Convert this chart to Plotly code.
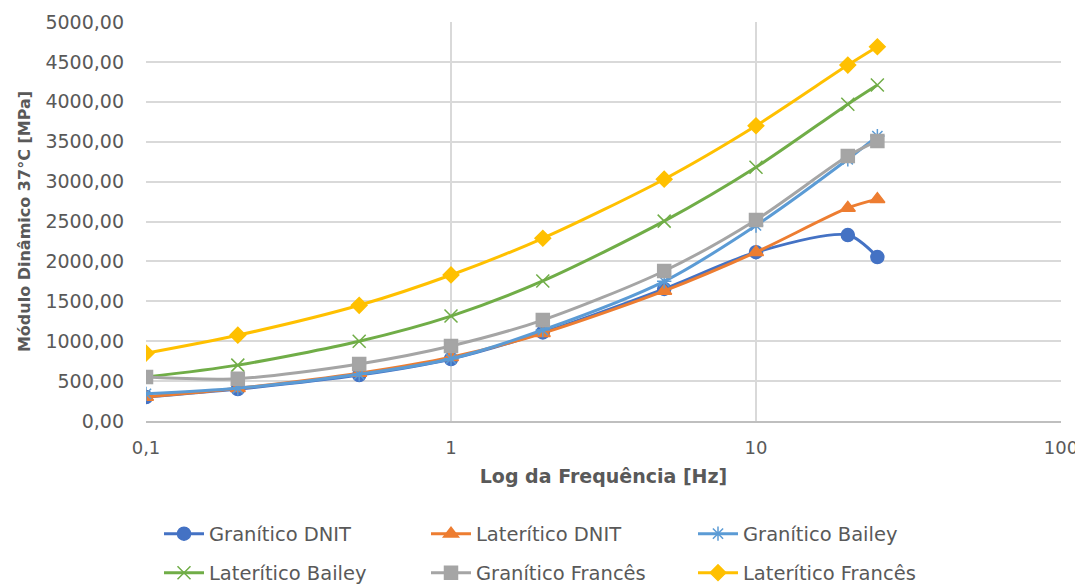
import plotly.graph_objects as go

freq = [0.1, 0.2, 0.5, 1, 2, 5, 10, 20, 25]

granitico_dnit = [300, 400, 575, 777, 1110, 1655, 2115, 2330, 2055]
lateritico_dnit = [300, 410, 600, 800, 1100, 1630, 2115, 2670, 2780]
granitico_bailey = [340, 410, 585, 780, 1140, 1750, 2450, 3280, 3570]
lateritico_bailey = [550, 700, 1000, 1315, 1755, 2505, 3180, 3970, 4210]
granitico_frances = [550, 530, 715, 940, 1265, 1880, 2520, 3320, 3510]
lateritico_frances = [850, 1075, 1450, 1830, 2290, 3030, 3700, 4460, 4690]

series_names = ["Granítico DNIT", "Laterítico DNIT", "Granítico Bailey",
                "Laterítico Bailey", "Granítico Francês", "Laterítico Francês"]
series_values = [granitico_dnit, lateritico_dnit, granitico_bailey,
                 lateritico_bailey, granitico_frances, lateritico_frances]

x_tickvals = [0.1, 1, 10, 100]
x_ticktext = ["0,1", "1", "10", "100"]
y_tickvals = [0, 500, 1000, 1500, 2000, 2500, 3000, 3500, 4000, 4500, 5000]

colors = ["#4472C4", "#ED7D31", "#5B9BD5", "#70AD47", "#A5A5A5", "#FFC000"]
symbols = ["circle", "triangle-up", "asterisk-open", "x-thin-open", "square", "diamond"]
sizes = [13, 13, 12, 13, 13, 12]
legend_ids = ["legend", "legend", "legend", "legend2", "legend2", "legend2"]

W, H = 1075, 579  # page has an 8px body margin

fig = go.Figure()
for name, vals, c, s, sz, lg in zip(series_names, series_values, colors, symbols, sizes, legend_ids):
    fig.add_trace(go.Scatter(
        x=freq, y=vals, name=name, mode="lines+markers", legend=lg,
        line=dict(color=c, width=3, shape="spline", smoothing=0.8),
        marker=dict(symbol=s, size=sz, color=c, line=dict(color=c, width=1.5)),
    ))

font = "'DejaVu Sans', sans-serif"
legend_common = dict(
    orientation="h", xref="container", yref="container",
    x=151 / W, xanchor="left", yanchor="middle",
    font=dict(family=font, size=19.5, color="#595959"),
    entrywidth=212, itemwidth=40, bgcolor="rgba(0,0,0,0)",
)
fig.update_layout(
    width=W, height=H,
    paper_bgcolor="white", plot_bgcolor="white",
    margin=dict(l=138, r=22, t=14, b=166, autoexpand=False),
    separators=",.",
    font=dict(family=font, color="#595959", size=17),
    xaxis=dict(
        type="log", range=[-1, 2],
        tickvals=x_tickvals, ticktext=x_ticktext,
        showgrid=True, gridcolor="#D9D9D9", gridwidth=1.5,
        showline=True, linecolor="#BFBFBF", linewidth=1.5,
        zeroline=False, ticks="", ticklabelstandoff=10,
        tickfont=dict(family=font, size=18, color="#595959"),
        title=dict(text="<b>Log da Frequência [Hz]</b>",
                   font=dict(family=font, size=19, color="#595959"), standoff=12),
    ),
    yaxis=dict(
        range=[0, 5000], tickvals=y_tickvals, tickformat=".2f",
        showgrid=True, gridcolor="#D9D9D9", gridwidth=1.5,
        showline=False, zeroline=False, ticks="", ticklabelstandoff=21,
        tickfont=dict(family=font, size=19, color="#595959"),
        title=dict(text="<b>Módulo Dinâmico 37°C [MPa]</b>",
                   font=dict(family=font, size=16, color="#595959"), standoff=10),
    ),
    legend=dict(legend_common, y=1 - 526 / H),
    legend2=dict(legend_common, y=1 - 565 / H),
)

fig.write_html("out.html")
